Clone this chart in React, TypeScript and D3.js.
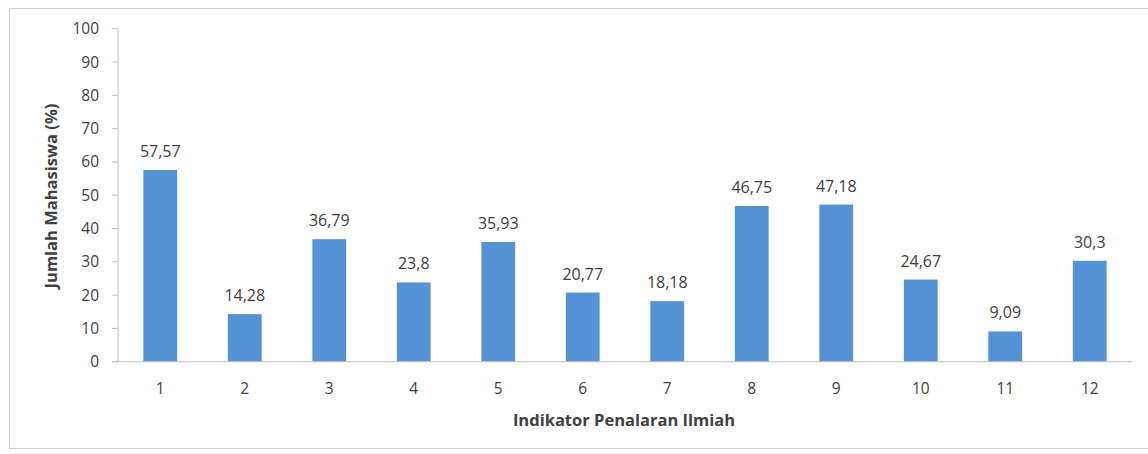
import React from "react";
import * as d3 from "d3";

const categories = ["1", "2", "3", "4", "5", "6", "7", "8", "9", "10", "11", "12"];
const values = [57.57, 14.28, 36.79, 23.8, 35.93, 20.77, 18.18, 46.75, 47.18, 24.67, 9.09, 30.3];
const valueLabels = ["57,57", "14,28", "36,79", "23,8", "35,93", "20,77", "18,18", "46,75", "47,18", "24,67", "9,09", "30,3"];
const yTicks = [0, 10, 20, 30, 40, 50, 60, 70, 80, 90, 100];
const xTitle = "Indikator Penalaran Ilmiah";
const yTitle = "Jumlah Mahasiswa (%)";

export default function App() {
  const W = 1148, H = 454;
  const left = 118, right = 1132, top = 28.7, bottom = 361.7;
  const x = d3.scaleBand<string>().domain(categories).range([left, right]).paddingInner(0.6).paddingOuter(0.3);
  const y = d3.scaleLinear().domain([0, 100]).range([bottom, top]);
  const font = "'Open Sans', 'Noto Sans', sans-serif";
  const txt = "#404040";
  return (
    <svg width={W} height={H} style={{ position: "absolute", left: 0, top: 0, background: "#fff" }} fontFamily={font}>
      <rect x={9.5} y={8.5} width={1150} height={440} fill="#fff" stroke="#d0d0d0" />
      {/* y axis */}
      <line x1={left} x2={left} y1={y(100)} y2={bottom} stroke="#bfbfbf" />
      {yTicks.map((t) => (
        <g key={t}>
          <line x1={left - 6} x2={left} y1={y(t)} y2={y(t)} stroke="#bfbfbf" />
          <text x={99} y={y(t)} dy="0.36em" textAnchor="end" fontSize={15.5} fill={txt}>{t}</text>
        </g>
      ))}
      {/* bars */}
      {categories.map((c, i) => (
        <g key={c}>
          <rect x={x(c)} y={y(values[i])} width={x.bandwidth()} height={bottom - y(values[i])} fill="#5592d5" />
          <text x={(x(c) as number) + x.bandwidth() / 2} y={y(values[i]) - 13} textAnchor="middle" fontSize={16} fill={txt}>{valueLabels[i]}</text>
          <text x={(x(c) as number) + x.bandwidth() / 2} y={394} textAnchor="middle" fontSize={15.5} fill={txt}>{c}</text>
        </g>
      ))}
      {/* x axis */}
      <line x1={left - 6} x2={right} y1={bottom} y2={bottom} stroke="#bfbfbf" />
      <text x={624} y={426} textAnchor="middle" fontSize={16.5} fontWeight="bold" fill={txt}>{xTitle}</text>
      <text transform={`translate(57, 196) rotate(-90)`} textAnchor="middle" fontSize={16.5} fontWeight="bold" fill={txt}>{yTitle}</text>
    </svg>
  );
}
